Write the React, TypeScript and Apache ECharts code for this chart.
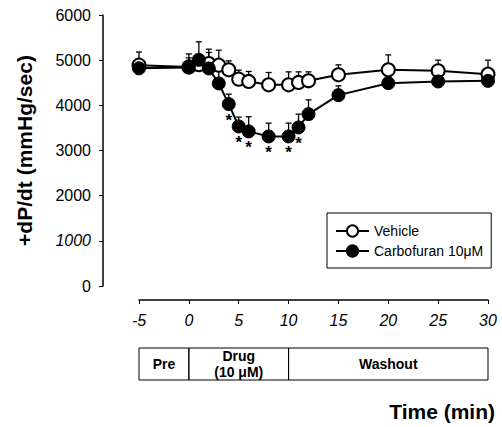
import React, { useEffect, useRef } from "react";
import * as echarts from "echarts";

const times = [-5, 0, 1, 2, 3, 4, 5, 6, 8, 10, 11, 12, 15, 20, 25, 30];
const vehicleMean = [4890, 4850, 4900, 4926, 4889, 4786, 4580, 4529, 4454, 4454, 4507, 4543, 4675, 4786, 4764, 4690];
const vehicleErr = [290, 200, 200, 317, 332, 199, 199, 221, 273, 287, 234, 198, 221, 331, 236, 310];
const carboMean = [4820, 4838, 5007, 4816, 4485, 4027, 3533, 3423, 3312, 3312, 3511, 3805, 4226, 4491, 4529, 4542];
const carboErr = [100, 300, 400, 354, 315, 220, 206, 323, 294, 294, 294, 317, 206, 150, 198, 120];
const sigTimes = [4, 5, 6, 8, 10, 11];

const yTicks = [0, 1000, 2000, 3000, 4000, 5000, 6000];
const xTicks = [-5, 0, 5, 10, 15, 20, 25, 30];

const phaseStart = [-5, 0, 10];
const phaseEnd = [0, 10, 30];
const phaseLabels = ["Pre", "Drug\n(10 \u03bcM)", "Washout"];

const FONT = "Liberation Sans, Arial, Helvetica, sans-serif";

export default function App() {
  const ref = useRef<HTMLDivElement>(null);
  useEffect(() => {
    if (!ref.current) return;
    const chart = echarts.init(ref.current, undefined, { renderer: "svg" });

    const errSeries = (mean: number[], err: number[], name: string) => ({
      type: "custom",
      name: name + "_err",
      xAxisIndex: 0,
      yAxisIndex: 0,
      z: 1,
      silent: true,
      data: times.map((t, i) => [t, mean[i], err[i]]),
      renderItem: (params: any, api: any) => {
        const x = api.value(0);
        const y = api.value(1);
        const e = api.value(2);
        const p0 = api.coord([x, y]);
        const p1 = api.coord([x, y + e]);
        return {
          type: "group",
          children: [
            { type: "line", shape: { x1: p0[0], y1: p0[1], x2: p1[0], y2: p1[1] }, style: { stroke: "#000", lineWidth: 1.3 } },
            { type: "line", shape: { x1: p1[0] - 3, y1: p1[1], x2: p1[0] + 3, y2: p1[1] }, style: { stroke: "#000", lineWidth: 1.3 } },
          ],
        };
      },
    });

    const option: any = {
      animation: false,
      textStyle: { fontFamily: FONT },
      title: {
        text: "Time (min)",
        right: 2,
        top: 396,
        textStyle: { fontFamily: FONT, fontSize: 21, fontWeight: "bold", color: "#000" },
      },
      legend: {
        orient: "vertical",
        left: 327,
        top: 213,
        data: ["Vehicle", "Carbofuran 10\u03bcM"],
        itemWidth: 33,
        itemHeight: 14,
        itemGap: 6,
        itemTextGap: 9,
        padding: [11, 8, 10, 8],
        borderColor: "#000",
        borderWidth: 1,
        textStyle: { fontFamily: FONT, fontSize: 14, color: "#000" },
      },
      grid: [
        { left: 139, right: 14, top: 15, bottom: 141 },
        { left: 139, right: 14, top: 348, height: 32 },
      ],
      xAxis: [
        {
          type: "value",
          gridIndex: 0,
          min: xTicks[0],
          max: xTicks[xTicks.length - 1],
          interval: 5,
          offset: 14,
          splitLine: { show: false },
          axisLine: { onZero: false, lineStyle: { color: "#000", width: 1.5 } },
          axisTick: { length: 4, lineStyle: { color: "#000" } },
          axisLabel: { fontSize: 16, fontStyle: "italic", color: "#000", margin: 12, fontFamily: FONT },
        },
        { type: "value", gridIndex: 1, min: xTicks[0], max: xTicks[xTicks.length - 1], show: false },
      ],
      yAxis: [
        {
          type: "value",
          gridIndex: 0,
          min: yTicks[0],
          max: yTicks[yTicks.length - 1],
          interval: 1000,
          offset: 36,
          name: "+dP/dt (mmHg/sec)",
          nameLocation: "middle",
          nameGap: 68,
          nameTextStyle: { fontFamily: FONT, fontSize: 21, fontWeight: "bold", color: "#000" },
          splitLine: { show: false },
          axisLine: { show: true, onZero: false, lineStyle: { color: "#000", width: 1.5 } },
          axisTick: { show: true, length: 4, lineStyle: { color: "#000" } },
          axisLabel: {
            fontSize: 16,
            color: "#000",
            margin: 12,
            fontFamily: FONT,
            formatter: (v: number) => (v === 1000 ? "{i|" + v + "}" : String(v)),
            rich: { i: { fontSize: 16, fontStyle: "italic", color: "#000", fontFamily: FONT } },
          },
        },
        { type: "value", gridIndex: 1, min: 0, max: 1, show: false },
      ],
      series: [
        errSeries(vehicleMean, vehicleErr, "Vehicle"),
        errSeries(carboMean, carboErr, "Carbo"),
        {
          type: "line",
          name: "Vehicle",
          z: 3,
          data: times.map((t, i) => [t, vehicleMean[i]]),
          symbol: "circle",
          symbolSize: 13,
          lineStyle: { color: "#000", width: 2 },
          itemStyle: { color: "#fff", borderColor: "#000", borderWidth: 2 },
        },
        {
          type: "line",
          name: "Carbofuran 10\u03bcM",
          z: 4,
          data: times.map((t, i) => ({
            value: [t, carboMean[i]],
            label: sigTimes.includes(t)
              ? { show: true, position: "bottom", distance: 1, formatter: "*", fontSize: 17, fontWeight: "bold", color: "#000", fontFamily: FONT }
              : { show: false },
          })),
          symbol: "circle",
          symbolSize: 13,
          lineStyle: { color: "#000", width: 2 },
          itemStyle: { color: "#000", borderColor: "#000", borderWidth: 1 },
        },
        {
          type: "custom",
          xAxisIndex: 1,
          yAxisIndex: 1,
          silent: true,
          data: phaseStart.map((s, i) => [s, phaseEnd[i]]),
          renderItem: (params: any, api: any) => {
            const a = api.coord([api.value(0), 1]);
            const b = api.coord([api.value(1), 0]);
            return {
              type: "group",
              children: [
                {
                  type: "rect",
                  shape: { x: a[0], y: a[1], width: b[0] - a[0], height: b[1] - a[1] },
                  style: { fill: "none", stroke: "#000", lineWidth: 1 },
                },
                {
                  type: "text",
                  x: (a[0] + b[0]) / 2,
                  y: (a[1] + b[1]) / 2,
                  style: {
                    text: phaseLabels[params.dataIndex],
                    align: "center",
                    verticalAlign: "middle",
                    fontFamily: FONT,
                    fontSize: 14,
                    fontWeight: "bold",
                    lineHeight: 16,
                    fill: "#000",
                  },
                },
              ],
            };
          },
        },
      ],
    };
    chart.setOption(option);
    return () => chart.dispose();
  }, []);
  return <div ref={ref} style={{ position: "fixed", left: 0, top: 0, width: 502, height: 427, background: "#fff" }} />;
}
